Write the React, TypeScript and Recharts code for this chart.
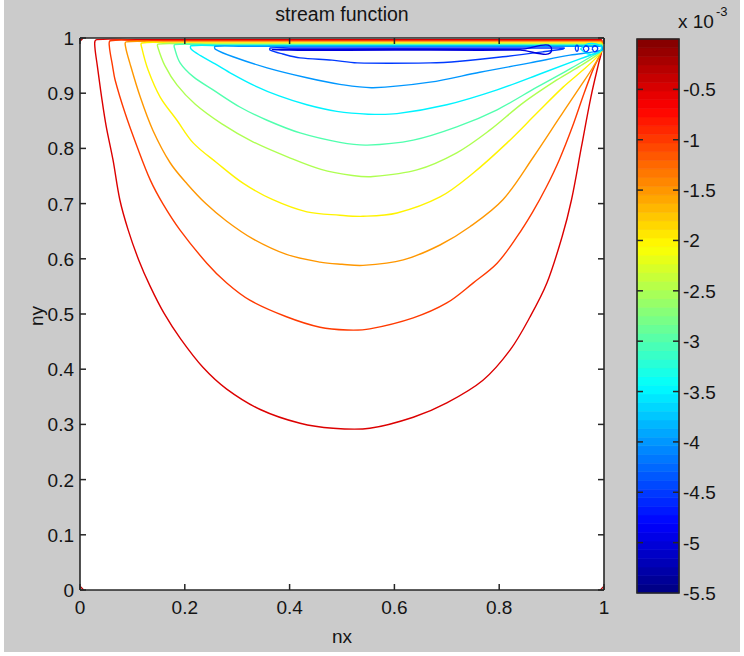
import React from 'react';
import { ComposedChart, Line, XAxis, YAxis, ReferenceLine, ReferenceArea } from 'recharts';

// contour levels, in units of 1e-3
const levels = [-0.5, -1, -1.5, -2, -2.5, -3, -3.5, -4, -4.5, -5];

// each contour as [nx, ny] pairs, traced from the lid corner
const psi05 = [[0.996, 0.997], [0.5, 0.997], [0.1, 0.997], [0.032, 0.997], [0.028, 0.99], [0.033, 0.95], [0.042, 0.888], [0.05, 0.84], [0.063, 0.779], [0.076, 0.707], [0.092, 0.652], [0.112, 0.598], [0.134, 0.55], [0.16, 0.502], [0.192, 0.455], [0.235, 0.403], [0.28, 0.364], [0.344, 0.327], [0.42, 0.302], [0.483, 0.293], [0.553, 0.293], [0.636, 0.313], [0.7, 0.339], [0.769, 0.38], [0.821, 0.435], [0.859, 0.495], [0.891, 0.556], [0.92, 0.64], [0.938, 0.707], [0.957, 0.803], [0.975, 0.893], [0.99, 0.955], [0.996, 0.978], [0.996, 0.997]];
const psi10 = [[0.996, 0.995], [0.5, 0.995], [0.12, 0.995], [0.058, 0.995], [0.056, 0.985], [0.062, 0.95], [0.067, 0.924], [0.086, 0.864], [0.109, 0.803], [0.134, 0.743], [0.158, 0.7], [0.191, 0.652], [0.242, 0.592], [0.28, 0.556], [0.324, 0.525], [0.394, 0.495], [0.458, 0.476], [0.51, 0.471], [0.553, 0.473], [0.636, 0.493], [0.7, 0.52], [0.75, 0.556], [0.796, 0.592], [0.834, 0.64], [0.864, 0.685], [0.89, 0.73], [0.915, 0.78], [0.94, 0.84], [0.962, 0.9], [0.98, 0.945], [0.996, 0.978], [0.996, 0.995]];
const psi15 = [[0.996, 0.993], [0.5, 0.993], [0.15, 0.993], [0.088, 0.993], [0.087, 0.984], [0.095, 0.955], [0.115, 0.893], [0.139, 0.833], [0.172, 0.774], [0.205, 0.735], [0.24, 0.7], [0.28, 0.668], [0.33, 0.636], [0.394, 0.608], [0.458, 0.594], [0.5, 0.59], [0.54, 0.588], [0.617, 0.598], [0.687, 0.625], [0.744, 0.658], [0.807, 0.707], [0.865, 0.784], [0.916, 0.857], [0.954, 0.911], [0.979, 0.947], [0.996, 0.978], [0.996, 0.993]];
const psi20 = [[0.996, 0.991], [0.5, 0.991], [0.18, 0.991], [0.118, 0.991], [0.118, 0.982], [0.13, 0.942], [0.153, 0.893], [0.185, 0.851], [0.216, 0.81], [0.261, 0.774], [0.311, 0.737], [0.368, 0.707], [0.433, 0.685], [0.496, 0.679], [0.54, 0.677], [0.605, 0.683], [0.687, 0.712], [0.75, 0.755], [0.815, 0.81], [0.872, 0.864], [0.922, 0.911], [0.96, 0.942], [0.985, 0.964], [0.996, 0.978], [0.996, 0.991]];
const psi25 = [[0.996, 0.989], [0.5, 0.989], [0.21, 0.989], [0.149, 0.989], [0.149, 0.982], [0.162, 0.95], [0.185, 0.915], [0.22, 0.88], [0.27, 0.845], [0.33, 0.812], [0.4, 0.783], [0.46, 0.762], [0.52, 0.751], [0.559, 0.749], [0.643, 0.761], [0.719, 0.792], [0.782, 0.833], [0.845, 0.882], [0.91, 0.924], [0.954, 0.949], [0.985, 0.968], [0.996, 0.978], [0.996, 0.989]];
const psi30 = [[0.996, 0.988], [0.5, 0.988], [0.24, 0.988], [0.181, 0.988], [0.181, 0.98], [0.191, 0.955], [0.216, 0.93], [0.254, 0.906], [0.305, 0.875], [0.357, 0.851], [0.42, 0.828], [0.496, 0.811], [0.548, 0.806], [0.636, 0.815], [0.719, 0.839], [0.796, 0.87], [0.872, 0.911], [0.935, 0.944], [0.975, 0.966], [0.996, 0.978], [0.996, 0.988]];
const psi35 = [[0.996, 0.986], [0.5, 0.986], [0.27, 0.986], [0.212, 0.986], [0.212, 0.98], [0.23, 0.968], [0.258, 0.953], [0.29, 0.935], [0.33, 0.915], [0.38, 0.895], [0.433, 0.879], [0.49, 0.867], [0.55, 0.862], [0.605, 0.863], [0.7, 0.879], [0.796, 0.906], [0.884, 0.937], [0.948, 0.96], [0.996, 0.978], [0.996, 0.986]];
const psi40 = [[0.996, 0.985], [0.5, 0.985], [0.31, 0.985], [0.258, 0.985], [0.258, 0.98], [0.292, 0.966], [0.357, 0.946], [0.433, 0.928], [0.496, 0.916], [0.559, 0.91], [0.668, 0.92], [0.763, 0.938], [0.859, 0.955], [0.935, 0.969], [0.996, 0.978], [0.996, 0.985]];
const psi45 = [[0.925, 0.982], [0.6, 0.982], [0.4, 0.982], [0.363, 0.982], [0.363, 0.978], [0.387, 0.971], [0.42, 0.964], [0.481, 0.96], [0.529, 0.955], [0.668, 0.955], [0.725, 0.958], [0.807, 0.966], [0.884, 0.975], [0.922, 0.98], [0.925, 0.982]];
const psi50 = [[0.366, 0.979], [0.4, 0.978], [0.6, 0.978], [0.84, 0.978], [0.9, 0.979], [0.84, 0.9795], [0.6, 0.98], [0.4, 0.9795], [0.366, 0.979]];
const contours = [psi05, psi10, psi15, psi20, psi25, psi30, psi35, psi40, psi45, psi50];

// small closed loops in the lid corner and corner eddies
const cornerBits = [
  { level: -3.5, pts: [[0.955, 0.98], [0.97, 0.971], [0.99, 0.974], [0.994, 0.985], [0.97, 0.99], [0.955, 0.98]] },
  { level: -4.5, pts: [[0.945, 0.982], [0.948, 0.976], [0.951, 0.982], [0.948, 0.987], [0.945, 0.982]] },
  { level: -4.5, pts: [[0.96, 0.981], [0.965, 0.975], [0.971, 0.981], [0.965, 0.986], [0.96, 0.981]] },
  { level: -4.5, pts: [[0.977, 0.981], [0.982, 0.975], [0.988, 0.981], [0.982, 0.986], [0.977, 0.981]] },
  { level: -0.3, pts: [[0, 0.007], [0.007, 0]] },
  { level: -0.3, pts: [[0.993, 0], [1, 0.007]] },
  { level: -0.3, pts: [[0, 0.994], [0.006, 1]] },
];

const xTicks = [0, 0.2, 0.4, 0.6, 0.8, 1];
const yTicks = [0, 0.1, 0.2, 0.3, 0.4, 0.5, 0.6, 0.7, 0.8, 0.9, 1];
const cbarTicks = [-5.5, -5, -4.5, -4, -3.5, -3, -2.5, -2, -1.5, -1, -0.5];
const cMin = -5.5;
const cMax = 0;

const AXIS = '#262626';
const TXT = '#141414';
const FONT = '"Liberation Sans", Arial, sans-serif';
const PLOT_W = 524;
const PLOT_H = 552;
const CBAR_W = 42;

const clamp = (v: number) => Math.max(0, Math.min(1, v));
function jet(t: number) {
  const r = clamp(Math.min(4 * t - 1.5, -4 * t + 4.5));
  const g = clamp(Math.min(4 * t - 0.5, -4 * t + 3.5));
  const b = clamp(Math.min(4 * t + 0.5, -4 * t + 2.5));
  return `rgb(${Math.round(r * 255)},${Math.round(g * 255)},${Math.round(b * 255)})`;
}
const levelColor = (lv: number) => jet((lv - cMin) / (cMax - cMin));

const toPts = (arr: number[][]) => arr.map(([x, y]) => ({ x, y }));

// smooth curve through the traced points, tangents scaled by chord length so it never overshoots
function smoothCurve(context: any) {
  let pts: number[][] = [];
  return {
    areaStart() {},
    areaEnd() {},
    lineStart() {
      pts = [];
    },
    point(x: number, y: number) {
      pts.push([+x, +y]);
    },
    lineEnd() {
      const n = pts.length;
      if (!n) return;
      context.moveTo(pts[0][0], pts[0][1]);
      if (n < 3) {
        for (let i = 1; i < n; i++) context.lineTo(pts[i][0], pts[i][1]);
        return;
      }
      const tan = pts.map((_, i) => {
        const a = pts[Math.max(0, i - 1)];
        const b = pts[Math.min(n - 1, i + 1)];
        const dx = b[0] - a[0];
        const dy = b[1] - a[1];
        const l = Math.hypot(dx, dy) || 1;
        return [dx / l, dy / l];
      });
      for (let i = 0; i < n - 1; i++) {
        const p = pts[i];
        const q = pts[i + 1];
        const d = Math.hypot(q[0] - p[0], q[1] - p[1]) / 3;
        context.bezierCurveTo(
          p[0] + tan[i][0] * d,
          p[1] + tan[i][1] * d,
          q[0] - tan[i + 1][0] * d,
          q[1] - tan[i + 1][1] * d,
          q[0],
          q[1],
        );
      }
    },
  };
}

const cbarBands = Array.from({ length: 64 }, (_, i) => ({
  y1: cMin + (i * (cMax - cMin)) / 64,
  y2: cMin + ((i + 1) * (cMax - cMin)) / 64,
  color: jet((i + 0.5) / 64),
}));

function XTick(props: any) {
  const { x, y, payload } = props;
  return (
    <g>
      <line x1={x} y1={y} x2={x} y2={y - 6} stroke={AXIS} strokeWidth={1.5} />
      <line x1={x} y1={y - PLOT_H} x2={x} y2={y - PLOT_H + 6} stroke={AXIS} strokeWidth={1.5} />
      <text x={x} y={y + 24} textAnchor="middle" fontSize={19} fontFamily={FONT} fill={TXT}>
        {String(payload.value)}
      </text>
    </g>
  );
}

function YTick(props: any) {
  const { x, y, payload } = props;
  return (
    <g>
      <line x1={x} y1={y} x2={x + 6} y2={y} stroke={AXIS} strokeWidth={1.5} />
      <line x1={x + PLOT_W} y1={y} x2={x + PLOT_W - 6} y2={y} stroke={AXIS} strokeWidth={1.5} />
      <text x={x - 6} y={y + 7} textAnchor="end" fontSize={19} fontFamily={FONT} fill={TXT}>
        {String(payload.value)}
      </text>
    </g>
  );
}

function CbarTick(props: any) {
  const { x, y, payload } = props;
  if (payload.value === cMin) {
    return (
      <text x={x + 4} y={y + 7} fontSize={19} fontFamily={FONT} fill={TXT}>
        {String(payload.value)}
      </text>
    );
  }
  return (
    <g>
      <line x1={x} y1={y} x2={x - 6} y2={y} stroke={AXIS} strokeWidth={1.5} />
      <line x1={x - CBAR_W} y1={y} x2={x - CBAR_W + 6} y2={y} stroke={AXIS} strokeWidth={1.5} />
      <text x={x + 4} y={y + 7} fontSize={19} fontFamily={FONT} fill={TXT}>
        {String(payload.value)}
      </text>
    </g>
  );
}

export default function App() {
  return (
    <div style={{ position: 'absolute', left: 0, top: 0, width: 744, height: 656, background: '#fff' }}>
      <div style={{ position: 'absolute', left: 4, top: 0, width: 736, height: 652, background: '#cbcbcb' }} />
      <div style={{ position: 'absolute', left: 80, top: 38, width: PLOT_W, height: PLOT_H, background: '#fff' }} />

      <div style={{ position: 'absolute', left: 0, top: 0 }}>
        <ComposedChart width={620} height={640} margin={{ top: 38, right: 16, bottom: 0, left: 0 }}>
          <XAxis
            dataKey="x"
            type="number"
            domain={[0, 1]}
            ticks={xTicks}
            interval={0}
            height={50}
            tickSize={0}
            tickMargin={0}
            tickLine={false}
            tick={<XTick />}
            axisLine={{ stroke: AXIS, strokeWidth: 1.6 }}
            allowDataOverflow
          />
          <YAxis
            type="number"
            domain={[0, 1]}
            ticks={yTicks}
            interval={0}
            width={80}
            tickSize={0}
            tickMargin={0}
            tickLine={false}
            tick={<YTick />}
            axisLine={{ stroke: AXIS, strokeWidth: 1.6 }}
            allowDataOverflow
          />
          {contours.map((c, i) => (
            <Line
              key={'c' + i}
              data={toPts(c)}
              dataKey="y"
              type={smoothCurve as any}
              dot={false}
              activeDot={false}
              stroke={levelColor(levels[i])}
              strokeWidth={1.4}
              isAnimationActive={false}
            />
          ))}
          {cornerBits.map((c, i) => (
            <Line
              key={'k' + i}
              data={toPts(c.pts)}
              dataKey="y"
              type={smoothCurve as any}
              dot={false}
              activeDot={false}
              stroke={levelColor(c.level)}
              strokeWidth={1.3}
              isAnimationActive={false}
            />
          ))}
          <ReferenceLine y={1} stroke={AXIS} strokeWidth={1.6} />
          <ReferenceLine x={1} stroke={AXIS} strokeWidth={1.6} />
        </ComposedChart>
      </div>

      <div style={{ position: 'absolute', left: 600, top: 0 }}>
        <ComposedChart width={144} height={656} margin={{ top: 39, right: 0, bottom: 63, left: 37 }} data={[{ x: 0 }, { x: 1 }]}>
          <XAxis dataKey="x" type="number" domain={[0, 1]} hide />
          <YAxis
            orientation="right"
            type="number"
            domain={[cMin, cMax]}
            ticks={cbarTicks}
            interval={0}
            width={65}
            tickSize={0}
            tickMargin={0}
            tickLine={false}
            axisLine={false}
            tick={<CbarTick />}
            allowDataOverflow
          />
          {cbarBands.map((b, i) => (
            <ReferenceArea
              key={'b' + i}
              x1={0}
              x2={1}
              y1={b.y1}
              y2={b.y2}
              fill={b.color}
              fillOpacity={1}
              stroke={b.color}
              strokeWidth={0.6}
            />
          ))}
          <ReferenceArea x1={0} x2={1} y1={cMin} y2={cMax} fill="none" stroke={AXIS} strokeWidth={1.6} />
        </ComposedChart>
      </div>

      <svg width={744} height={656} style={{ position: 'absolute', left: 0, top: 0, pointerEvents: 'none' }}>
        <text x={342} y={21} textAnchor="middle" fontSize={19.5} fontFamily={FONT} fill={TXT}>
          stream function
        </text>
        <text x={342} y={643} textAnchor="middle" fontSize={19} fontFamily={FONT} fill={TXT}>
          nx
        </text>
        <text x={43} y={316} textAnchor="middle" fontSize={19} fontFamily={FONT} fill={TXT} transform="rotate(-90 43 316)">
          ny
        </text>
        <text x={678} y={28} fontSize={19} fontFamily={FONT} fill={TXT}>
          x 10
        </text>
        <text x={716} y={16} fontSize={13} fontFamily={FONT} fill={TXT}>
          -3
        </text>
      </svg>
    </div>
  );
}
